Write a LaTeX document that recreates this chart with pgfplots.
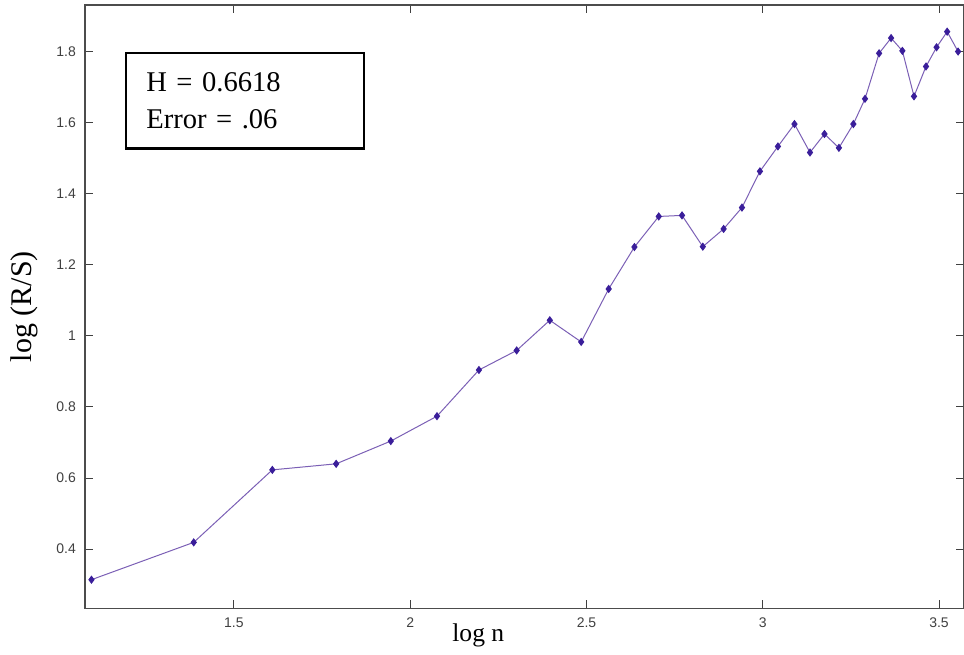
\documentclass[border=0pt]{standalone}
\usepackage{pgfplots}
\pgfplotsset{compat=1.18}
\usepackage{fontspec}
\setmainfont{Liberation Serif}
\newfontfamily\ticksf{Liberation Sans}
\definecolor{linepurple}{HTML}{7B5FB5}
\definecolor{markindigo}{HTML}{3A1E9A}
\begin{document}
\begin{tikzpicture}
\begin{axis}[
  scale only axis,
  width=440pt, height=302pt,
  xmin=1.0774, xmax=3.5708,
  ymin=0.2333, ymax=1.931,
  xtick={1.5,2,2.5,3,3.5},
  ytick={0.4,0.6,0.8,1,1.2,1.4,1.6,1.8},
  xticklabels={1.5,2,2.5,3,3.5},
  yticklabels={0.4,0.6,0.8,1,1.2,1.4,1.6,1.8},
  tick align=inside,
  major tick length=4pt,
  tick style={black!75, line width=0.5pt},
  axis line style={black!70, line width=0.6pt},
  ticklabel style={font=\ticksf\fontsize{7}{8}\selectfont, text=black!75},
  xticklabel style={yshift=-1pt},
  yticklabel style={xshift=-1pt},
  xlabel={log n},
  ylabel={log (R/S)},
  xlabel style={at={(rel axis cs:0.4475,-0.0442)}, anchor=center, font=\fontsize{12.8}{14}\selectfont},
  ylabel style={at={(rel axis cs:-0.0685,0.5)}, anchor=center, font=\fontsize{15}{16}\selectfont},
  clip=false,
]
\addplot[color=linepurple, line width=0.5pt, mark=diamond*, mark size=1.7pt,
  mark options={fill=markindigo, draw=markindigo}] coordinates {
(1.096,0.314)
(1.386,0.419)
(1.609,0.623)
(1.790,0.640)
(1.945,0.704)
(2.076,0.774)
(2.195,0.904)
(2.302,0.959)
(2.396,1.044)
(2.485,0.983)
(2.563,1.132)
(2.636,1.250)
(2.705,1.336)
(2.771,1.339)
(2.830,1.251)
(2.889,1.301)
(2.941,1.361)
(2.992,1.463)
(3.043,1.533)
(3.090,1.596)
(3.134,1.516)
(3.175,1.568)
(3.216,1.529)
(3.257,1.596)
(3.290,1.667)
(3.330,1.795)
(3.364,1.838)
(3.396,1.802)
(3.429,1.674)
(3.463,1.758)
(3.493,1.812)
(3.523,1.856)
(3.554,1.800)
};
\coordinate (sw) at (rel axis cs:0,0);
\coordinate (ne) at (rel axis cs:1,1);
\coordinate (nw) at (rel axis cs:0,1);
\end{axis}
\node[draw=black, line width=1.1pt, anchor=north west, minimum width=119pt, minimum height=47.7pt,
  text width=99pt, inner xsep=10pt, align=left, font=\fontsize{14.3}{18.8}\selectfont]
  at ([xshift=20.2pt, yshift=-23.6pt]nw) {H = 0.6618\\Error = .06};
\pgfresetboundingbox
\path[use as bounding box] ([xshift=-42.5pt, yshift=-22.85pt]sw) rectangle ([yshift=2.5pt]ne);
\end{tikzpicture}
\end{document}
